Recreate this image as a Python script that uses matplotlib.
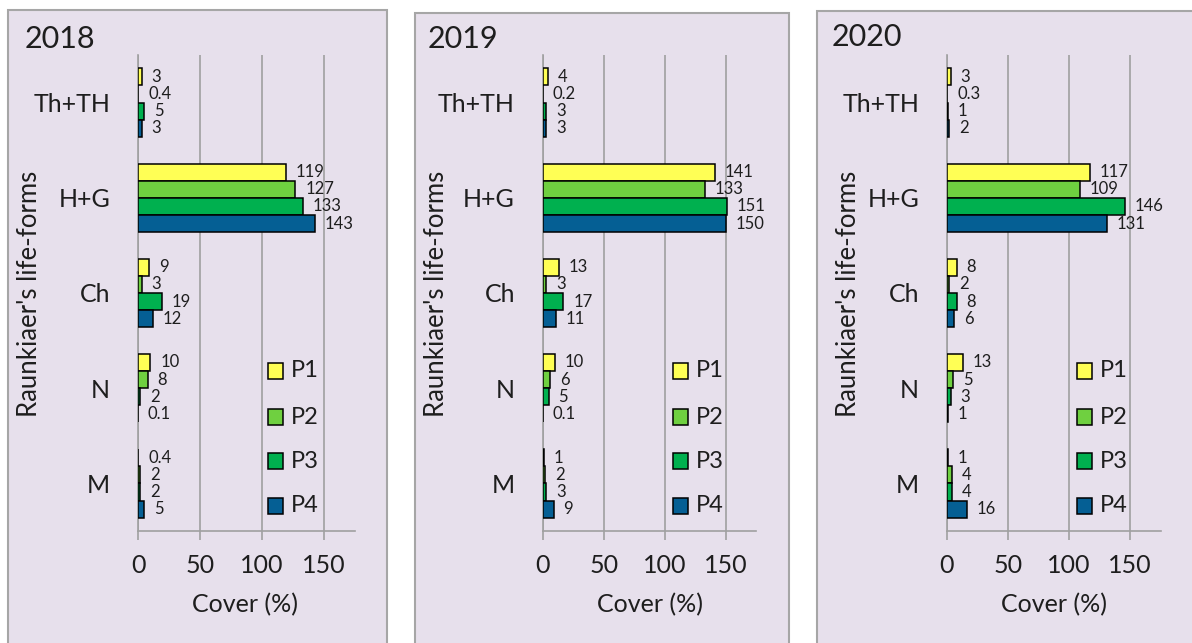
import matplotlib
matplotlib.use("Agg")
import matplotlib.pyplot as plt
from matplotlib.patches import Rectangle
import numpy as np

plt.rcParams['font.family'] = ['Lato', 'DejaVu Sans']

# ---------------- data ----------------
categories = ["Th+TH", "H+G", "Ch", "N", "M"]
series = ["P1", "P2", "P3", "P4"]
years = ["2018", "2019", "2020"]

v2018_P1 = [3, 119, 9, 10, 0.4]
v2018_P2 = [0.4, 127, 3, 8, 2]
v2018_P3 = [5, 133, 19, 2, 2]
v2018_P4 = [3, 143, 12, 0.1, 5]

v2019_P1 = [4, 141, 13, 10, 1]
v2019_P2 = [0.2, 133, 3, 6, 2]
v2019_P3 = [3, 151, 17, 5, 3]
v2019_P4 = [3, 150, 11, 0.1, 9]

v2020_P1 = [3, 117, 8, 13, 1]
v2020_P2 = [0.3, 109, 2, 5, 4]
v2020_P3 = [1, 146, 8, 3, 4]
v2020_P4 = [2, 131, 6, 1, 16]

xticks = [0, 50, 100, 150]
xlabel = "Cover (%)"
ylabel = "Raunkiaer's life-forms"

data = {
    "2018": [v2018_P1, v2018_P2, v2018_P3, v2018_P4],
    "2019": [v2019_P1, v2019_P2, v2019_P3, v2019_P4],
    "2020": [v2020_P1, v2020_P2, v2020_P3, v2020_P4],
}

colors = ["#FFFF55", "#6FD040", "#00B04F", "#055F94"]
bg = "#E7E0EC"
border = "#A6A6A6"
grid = "#A0A0A0"
txt = "#1E1E1E"

W, H = 1192, 643
fig = plt.figure(figsize=(W / 100, H / 100), dpi=100)
fig.patch.set_facecolor("white")

def fx(px):
    return px / W

def fy(py):
    return 1 - py / H

# panel layout (pixels)
panel_rects = [(8, 10, 387), (415, 13, 789), (817, 11, 1200)]
x0s = [138, 542.7, 947]
scales = [1.24, 1.22, 1.22]
xmax = 175
ax_top, ax_bot = 55, 531
ylab_x = [30, 437, 848]
title_pos = [(25, 39), (428, 39), (832, 37)]

bar_h = 0.18

for p, yr in enumerate(years):
    l, t, r = panel_rects[p]
    fig.patches.append(Rectangle((fx(l), -0.01), fx(r) - fx(l), fy(t) + 0.01, transform=fig.transFigure,
                                 facecolor=bg, edgecolor=border, linewidth=1.5, zorder=-5))
    x0 = x0s[p]
    sc = scales[p]
    ax = fig.add_axes([fx(x0), fy(ax_bot), (xmax * sc) / W, (ax_bot - ax_top) / H])
    ax.set_zorder(2)
    ax.set_facecolor("none")
    ax.set_xlim(0, xmax)
    ax.set_ylim(len(categories) - 0.5, -0.5)
    yc = np.arange(len(categories))
    for i, s in enumerate(series):
        vals = data[yr][i]
        pos = yc + (i - 1.5) * bar_h
        bars = ax.barh(pos, vals, height=bar_h, color=colors[i], edgecolor="black",
                       linewidth=1.1, zorder=3)
        for b, v in zip(bars, vals):
            lab = f"{v:g}"
            ax.annotate(lab, (v, b.get_y() + b.get_height() / 2), xytext=(7, 0),
                        textcoords="offset points", ha="left", va="center",
                        fontsize=12, color=txt, zorder=4, annotation_clip=False)
    ax.set_yticks(yc)
    ax.set_yticklabels(categories, fontsize=18, color=txt)
    ax.tick_params(axis="y", length=0, pad=20)
    ax.set_xticks(xticks)
    ax.set_xticklabels([str(x) for x in xticks], fontsize=18, color=txt)
    ax.tick_params(axis="x", direction="out", length=6.5, width=1.2, color=grid, pad=10)
    ax.grid(axis="x", color=grid, linewidth=1.2, zorder=1)
    for sp in ["top", "right"]:
        ax.spines[sp].set_visible(False)
    for sp in ["left", "bottom"]:
        ax.spines[sp].set_color(grid)
        ax.spines[sp].set_linewidth(1.2)
    # axis titles
    fig.text(fx(x0 + 107), fy(605), xlabel, ha="center", va="center", fontsize=18, color=txt)
    fig.text(fx(ylab_x[p]), fy(294), ylabel, ha="center", va="center", rotation=90,
             fontsize=18.5, color=txt)
    tx, ty = title_pos[p]
    fig.text(fx(tx), fy(ty), yr, ha="left", va="center", fontsize=22, color=txt)
    # legend
    leg_y = [371, 417, 461, 506]
    for i, s in enumerate(series):
        sx = x0 + 130
        fig.patches.append(Rectangle((fx(sx), fy(leg_y[i] + 8)), 15 / W, 16 / H,
                                     transform=fig.transFigure, facecolor=colors[i],
                                     edgecolor="black", linewidth=1.1, zorder=5))
        fig.text(fx(sx + 23), fy(leg_y[i]), s, ha="left", va="center", fontsize=17, color=txt)

fig.savefig("out.png", dpi=100)
